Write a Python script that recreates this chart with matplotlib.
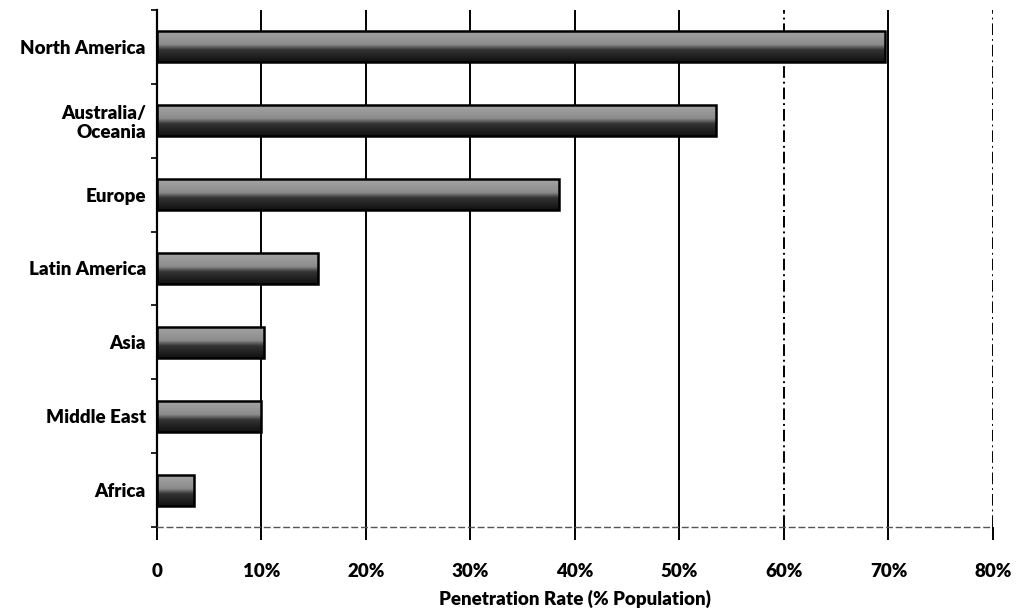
import matplotlib
matplotlib.use("Agg")
import matplotlib.pyplot as plt
import numpy as np
from matplotlib.colors import LinearSegmentedColormap

regions = ["North America", "Australia/\nOceania", "Europe", "Latin America",
           "Asia", "Middle East", "Africa"]
penetration = [69.7, 53.5, 38.5, 15.4, 10.2, 10.0, 3.5]
xticks = [0, 10, 20, 30, 40, 50, 60, 70, 80]
xtick_labels = ["0", "10%", "20%", "30%", "40%", "50%", "60%", "70%", "80%"]

plt.rcParams["font.family"] = ["Lato", "DejaVu Sans"]

fig = plt.figure(figsize=(10.2, 6.12), dpi=100)
ax = fig.add_axes([0.1539, 0.1389, 0.8196, 0.8448])

ax.set_xlim(0, 80)
ax.set_ylim(len(regions) - 0.5, -0.5)

# vertical gridlines
for x in xticks[1:]:
    ls = (0, (6, 2, 1, 2)) if x in (60, 80) else "-"
    ax.axvline(x, color="black", lw=1.4, ls=ls, zorder=1)

# bars with a light-to-dark vertical shading
shade = LinearSegmentedColormap.from_list(
    "shade", [(0.0, "#a6a6a6"), (0.45, "#8c8c8c"), (0.62, "#333333"), (1.0, "#111111")])
grad = np.linspace(0, 1, 64).reshape(-1, 1)
h = 0.42
ypos = np.arange(len(regions))
bars = ax.barh(ypos, penetration, height=h, color="none", edgecolor="black",
               linewidth=1.8, zorder=3)
for bar, v, y in zip(bars, penetration, ypos):
    im = ax.imshow(grad, cmap=shade, aspect="auto", origin="upper",
                   extent=(0, v, y + h / 2, y - h / 2), zorder=2,
                   interpolation="bilinear")
    im.set_clip_path(bar)
ax.set_xlim(0, 80)
ax.set_ylim(len(regions) - 0.5, -0.5)

ax.set_yticks(ypos)
ax.set_yticklabels(regions, fontsize=13.5, fontweight="heavy", linespacing=1.1)
ax.set_yticks(np.arange(-0.5, len(regions), 1.0), minor=True)
ax.tick_params(axis="y", which="major", length=0, pad=8)
ax.tick_params(axis="y", which="minor", length=4, width=1.2, color="black")

ax.set_xticks(xticks)
ax.set_xticklabels(xtick_labels, fontsize=13.5, fontweight="heavy")
ax.tick_params(axis="x", length=9, width=1.4, color="black", pad=17)

for side in ("top", "right"):
    ax.spines[side].set_visible(False)
ax.spines["left"].set_linewidth(1.6)
ax.spines["bottom"].set_color("#555555")
ax.spines["bottom"].set_linestyle((0, (4, 3)))
ax.spines["bottom"].set_linewidth(1.0)

ax.set_xlabel("Penetration Rate (% Population)", fontsize=13.5,
              fontweight="heavy", labelpad=7)

fig.savefig("out.png", dpi=100, facecolor="white")
